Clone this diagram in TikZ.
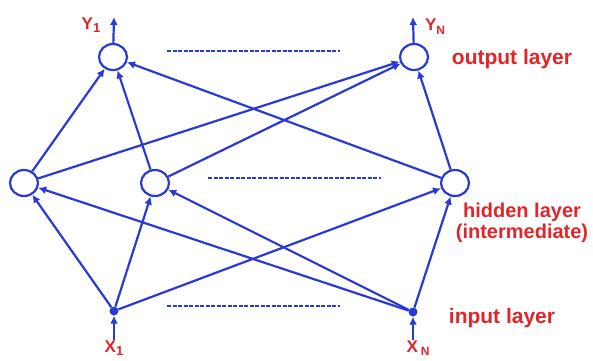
\documentclass[tikz,border=0pt]{standalone}
\usepackage{fontspec}
\setmainfont{Liberation Sans}
\usetikzlibrary{arrows.meta,shapes.geometric}
\definecolor{netblue}{HTML}{2A3AD4}
\definecolor{labred}{HTML}{E0262A}
\tikzset{
  neuron/.style={ellipse,draw=netblue,line width=2.2pt,minimum width=28pt,minimum height=26pt,inner sep=0pt,fill=white},
  inp/.style={circle,fill=netblue,minimum size=9pt,inner sep=0pt},
  conn/.style={draw=netblue,line width=2.2pt,-{Latex[length=8pt,width=8pt]}},
  dotline/.style={draw=netblue,line width=1.6pt,dash pattern=on 4pt off 1.5pt},
  lab/.style={text=labred,font=\bfseries\fontsize{21}{22}\selectfont,inner sep=0pt,align=center},
  hlab/.style={text=labred,font=\bfseries\fontsize{20}{20.5}\selectfont,inner sep=0pt,align=center},
  sym/.style={text=labred,font=\bfseries\fontsize{17}{18}\selectfont,inner sep=0pt}
}
\begin{document}
\begin{tikzpicture}[x=1pt,y=-1pt]
\useasboundingbox (0,0) rectangle (593,360);
\fill[white] (0,0) rectangle (593,360);
% nodes
\node[neuron] (y1) at (113,57) {};
\node[neuron] (yn) at (414,57) {};
\node[neuron] (h1) at (24,183) {};
\node[neuron] (h2) at (155,183) {};
\node[neuron] (h3) at (455,183) {};
\node[inp] (i1) at (114,311) {};
\node[inp] (in) at (413,312) {};
\coordinate (oy1) at (114,17);
\coordinate (oyn) at (413,17);
\coordinate (ix1) at (114,340);
\coordinate (ixn) at (413,340);
% edges input -> hidden
\foreach \s in {i1,in}{
  \foreach \t in {h1,h2,h3}{
    \path[conn] (\s) -- (\t);
  }
}
% hidden -> output
\foreach \s in {h1,h2,h3}{
  \foreach \t in {y1,yn}{
    \path[conn] (\s) -- (\t);
  }
}
\path[conn] (y1) -- (oy1);
\path[conn] (yn) -- (oyn);
\path[conn] (ix1) -- (i1);
\path[conn] (ixn) -- (in);
% dashed continuation lines
\coordinate (d1a) at (167,51); \coordinate (d1b) at (340,51);
\coordinate (d2a) at (208,178); \coordinate (d2b) at (381,178);
\coordinate (d3a) at (167,306); \coordinate (d3b) at (340,306);
\path[dotline] (d1a) -- (d1b);
\path[dotline] (d2a) -- (d2b);
\path[dotline] (d3a) -- (d3b);
% labels
\node[sym] (ly1) at (91,25) {Y\raisebox{-0.4ex}{\fontsize{13}{13}\selectfont 1}};
\node[sym] (lyn) at (435,27) {Y\raisebox{-0.45ex}{\fontsize{12}{12}\selectfont N}};
\node[sym] (lx1) at (114,348) {X\raisebox{-0.4ex}{\fontsize{13}{13}\selectfont 1}};
\node[sym] (lxn) at (418,348) {X\,\raisebox{-0.4ex}{\fontsize{12}{12}\selectfont N}};
\node[lab] (lout) at (512,59) {output layer};
\node[hlab] (lhid) at (522,223) {hidden layer\\(intermediate)};
\node[lab] (linp) at (502,318) {input layer};
\end{tikzpicture}
\end{document}
